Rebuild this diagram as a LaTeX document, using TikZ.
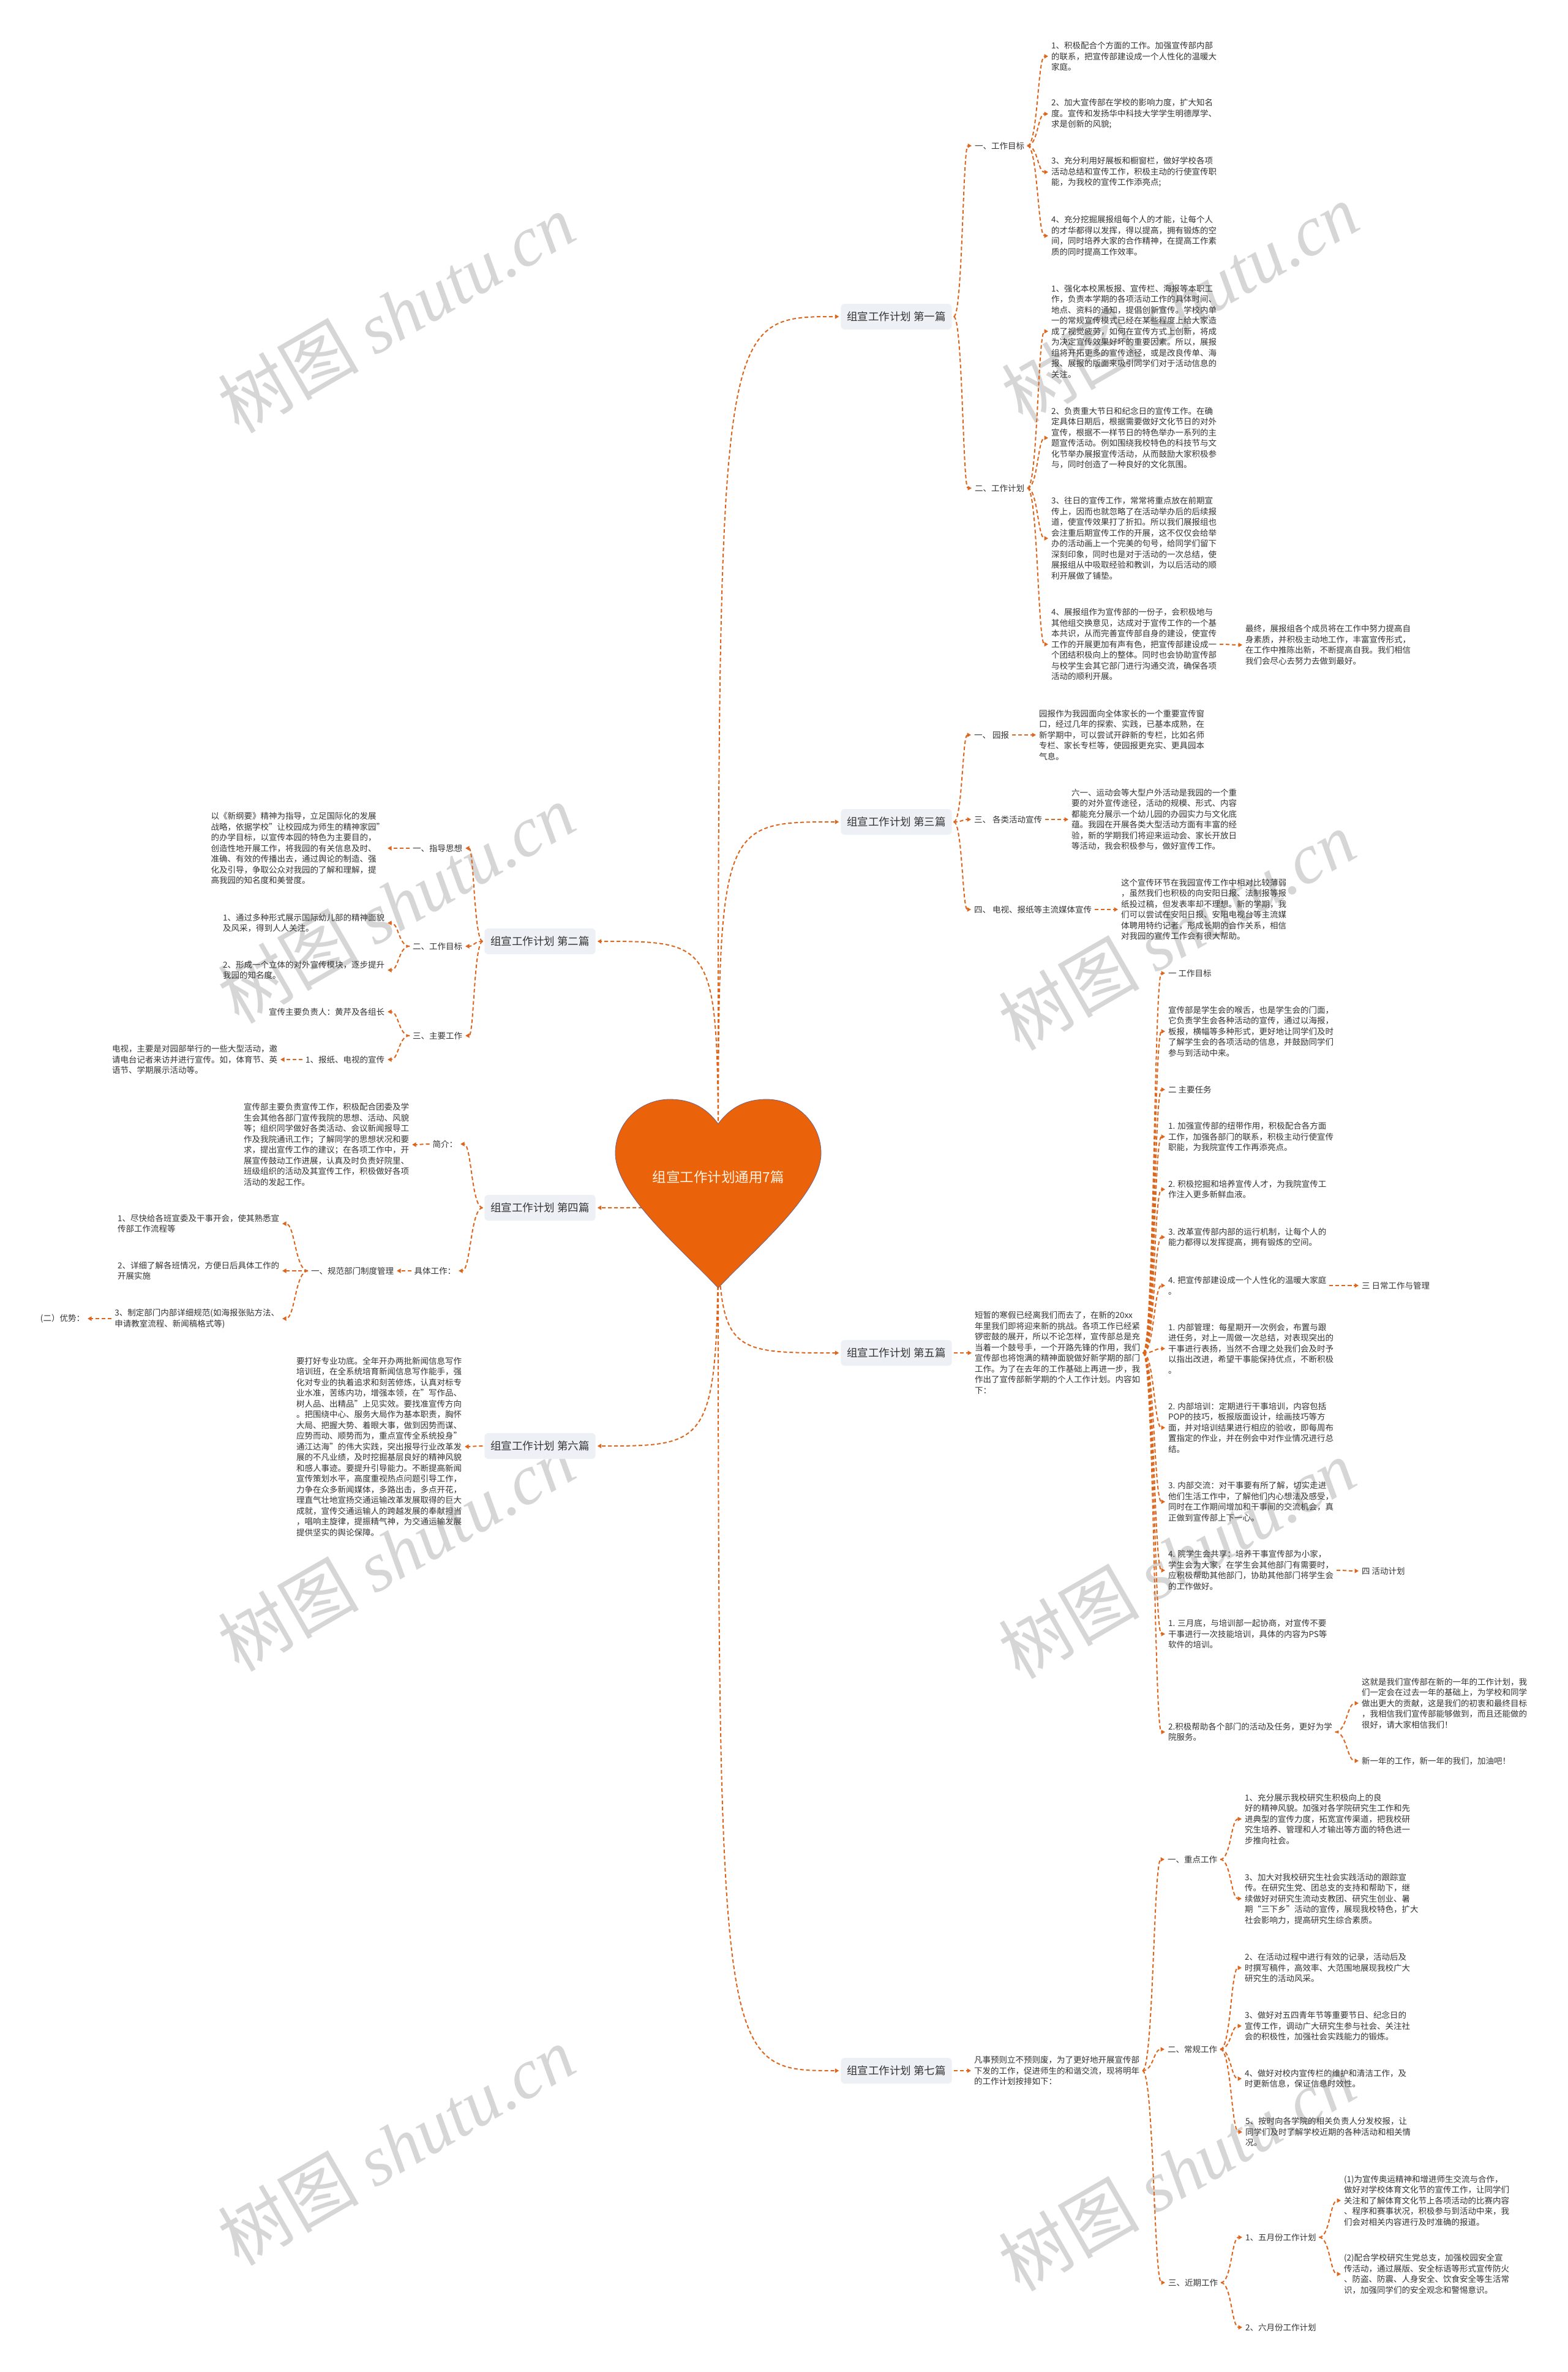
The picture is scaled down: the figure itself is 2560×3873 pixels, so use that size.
\documentclass[tikz,border=0pt]{standalone}
\usepackage{fontspec}
\setmainfont{Noto Sans CJK SC}
\newfontfamily\wmlat{Liberation Serif}
\usetikzlibrary{arrows.meta,calc}
\definecolor{lc}{RGB}{220,102,30}
\definecolor{hc}{RGB}{234,98,10}
\definecolor{hl}{RGB}{112,100,140}
\definecolor{ht}{RGB}{255,243,228}
\definecolor{tc}{RGB}{51,51,51}
\definecolor{bx}{RGB}{237,241,246}
\definecolor{wmc}{RGB}{214,214,214}
\newcommand\fsm{\fontsize{13.5pt}{17.5pt}\selectfont}
\newcommand\fsl{\fontsize{17.5pt}{21pt}\selectfont}
\newcommand\fsh{\fontsize{22.5pt}{26pt}\selectfont}
\newcommand\fsw{\fontsize{115pt}{120pt}\selectfont}
\newcommand\mmlink[2]{\draw[lnk] let \p1=(#1), \p2=(#2) in (\p1) .. controls ({(\x1+\x2)/2},\y1) and ({(\x1+\x2)/2},\y2) .. (\p2);}
\newcommand\rootlink[2]{\draw[lnk] let \p1=(#1), \p2=(#2) in (\p1) .. controls (\x1,\y2) .. (\p2);}
\tikzset{
  lnk/.style={draw=lc, line width=2pt, dash pattern=on 6pt off 4pt, -{Triangle[length=6.5pt,width=7pt]}},
  tx/.style={font=\fsm, text=tc, align=left, inner sep=0pt, outer sep=5pt},
  lb/.style={font=\fsm, text=tc, inner sep=0pt, outer sep=5pt},
  topbox/.style={fill=bx, rounded corners=6pt, font=\fsl, text=tc, minimum height=42pt, inner xsep=10pt, outer sep=3pt},
  wmark/.style={font=\fsw, text=wmc, rotate=30, inner sep=0pt}
}
\begin{document}
\begin{tikzpicture}[x=1pt,y=-1pt]
\fill[white] (0,0) rectangle (2560,3873);
\path[use as bounding box] (0,0) rectangle (2560,3873);

% watermarks
\foreach \wx/\wy [count=\i] in {647/511,1927/494,647/1475,1922/1519,647/2533,1922/2545,647/3503,1922/3545}{
  \node[wmark] (wm\i) at (\wx,\wy) {树图 {\wmlat\itshape shutu.cn}};
}

% first-level boxes
\node[topbox] (p1) at (1464,517) {组宣工作计划 第一篇};
\node[topbox] (p3) at (1464,1342) {组宣工作计划 第三篇};
\node[topbox] (p5) at (1464,2209) {组宣工作计划 第五篇};
\node[topbox] (p7) at (1464,3381) {组宣工作计划 第七篇};
\node[topbox] (p2) at (882,1537) {组宣工作计划 第二篇};
\node[topbox] (p4) at (882,1972) {组宣工作计划 第四篇};
\node[topbox] (p6) at (882,2361) {组宣工作计划 第六篇};

% ---------- 第一篇 ----------
\node[lb,anchor=west] (a1) at (1587,238) {一、工作目标};
\node[lb,anchor=west] (a2) at (1587,797) {二、工作计划};
\node[tx,anchor=west] (a11) at (1712,92) {1、积极配合个方面的工作。加强宣传部内部\\的联系，把宣传部建设成一个人性化的温暖大\\家庭。};
\node[tx,anchor=west] (a12) at (1712,186) {2、加大宣传部在学校的影响力度，扩大知名\\度。宣传和发扬华中科技大学学生明德厚学、\\求是创新的风貌;};
\node[tx,anchor=west] (a13) at (1712,281) {3、充分利用好展板和橱窗栏，做好学校各项\\活动总结和宣传工作，积极主动的行使宣传职\\能，为我校的宣传工作添亮点;};
\node[tx,anchor=west] (a14) at (1712,385) {4、充分挖掘展报组每个人的才能，让每个人\\的才华都得以发挥，得以提高，拥有锻炼的空\\间，同时培养大家的合作精神，在提高工作素\\质的同时提高工作效率。};
\node[tx,anchor=west] (a21) at (1712,541) {1、强化本校黑板报、宣传栏、海报等本职工\\作，负责本学期的各项活动工作的具体时间、\\地点、资料的通知，提倡创新宣传。学校内单\\一的常规宣传模式已经在某些程度上给大家造\\成了视觉疲劳，如何在宣传方式上创新，将成\\为决定宣传效果好坏的重要因素。所以，展报\\组将开拓更多的宣传途径，或是改良传单、海\\报、展报的版面来吸引同学们对于活动信息的\\关注。};
\node[tx,anchor=west] (a22) at (1712,715) {2、负责重大节日和纪念日的宣传工作。在确\\定具体日期后，根据需要做好文化节日的对外\\宣传，根据不一样节日的特色举办一系列的主\\题宣传活动。例如围绕我校特色的科技节与文\\化节举办展报宣传活动，从而鼓励大家积极参\\与，同时创造了一种良好的文化氛围。};
\node[tx,anchor=west] (a23) at (1712,879) {3、往日的宣传工作，常常将重点放在前期宣\\传上，因而也就忽略了在活动举办后的后续报\\道，使宣传效果打了折扣。所以我们展报组也\\会注重后期宣传工作的开展，这不仅仅会给举\\办的活动画上一个完美的句号，给同学们留下\\深刻印象，同时也是对于活动的一次总结，使\\展报组从中吸取经验和教训，为以后活动的顺\\利开展做了铺垫。};
\node[tx,anchor=west] (a24) at (1712,1052) {4、展报组作为宣传部的一份子，会积极地与\\其他组交换意见，达成对于宣传工作的一个基\\本共识，从而完善宣传部自身的建设，使宣传\\工作的开展更加有声有色，把宣传部建设成一\\个团结积极向上的整体。同时也会协助宣传部\\与校学生会其它部门进行沟通交流，确保各项\\活动的顺利开展。};
\node[tx,anchor=west] (a25) at (2029,1053) {最终，展报组各个成员将在工作中努力提高自\\身素质，并积极主动地工作，丰富宣传形式，\\在工作中推陈出新，不断提高自我。我们相信\\我们会尽心去努力去做到最好。};

% ---------- 第三篇 ----------
\node[lb,anchor=west] (b1) at (1586,1200) {一、 园报};
\node[lb,anchor=west] (b2) at (1586,1338) {三、 各类活动宣传};
\node[lb,anchor=west] (b3) at (1586,1485) {四、 电视、报纸等主流媒体宣传};
\node[tx,anchor=west] (b1t) at (1692,1200) {园报作为我园面向全体家长的一个重要宣传窗\\口，经过几年的探索、实践，已基本成熟，在\\新学期中，可以尝试开辟新的专栏，比如名师\\专栏、家长专栏等，使园报更充实、更具园本\\气息。};
\node[tx,anchor=west] (b2t) at (1745,1338) {六一、运动会等大型户外活动是我园的一个重\\要的对外宣传途径，活动的规模、形式、内容\\都能充分展示一个幼儿园的办园实力与文化底\\蕴。我园在开展各类大型活动方面有丰富的经\\验，新的学期我们将迎来运动会、家长开放日\\等活动，我会积极参与，做好宣传工作。};
\node[tx,anchor=west] (b3t) at (1826,1485) {这个宣传环节在我园宣传工作中相对比较薄弱\\，虽然我们也积极的向安阳日报、法制报等报\\纸投过稿，但发表率却不理想。新的学期，我\\们可以尝试在安阳日报、安阳电视台等主流媒\\体聘用特约记者，形成长期的合作关系，相信\\对我园的宣传工作会有很大帮助。};

% ---------- 第五篇 ----------
\node[tx,anchor=west] (c0) at (1587,2209) {短暂的寒假已经离我们而去了，在新的20xx\\年里我们即将迎来新的挑战。各项工作已经紧\\锣密鼓的展开，所以不论怎样，宣传部总是充\\当着一个鼓号手，一个开路先锋的作用，我们\\宣传部也将饱满的精神面貌做好新学期的部门\\工作。为了在去年的工作基础上再进一步，我\\作出了宣传部新学期的个人工作计划。内容如\\下：};
\node[lb,anchor=west] (c1) at (1903,1589) {一 工作目标};
\node[tx,anchor=west] (c2) at (1903,1684) {宣传部是学生会的喉舌，也是学生会的门面，\\它负责学生会各种活动的宣传，通过以海报，\\板报，横幅等多种形式，更好地让同学们及时\\了解学生会的各项活动的信息，并鼓励同学们\\参与到活动中来。};
\node[lb,anchor=west] (c3) at (1903,1779) {二 主要任务};
\node[tx,anchor=west] (c4) at (1903,1856) {1. 加强宣传部的纽带作用，积极配合各方面\\工作，加强各部门的联系，积极主动行使宣传\\职能，为我院宣传工作再添亮点。};
\node[tx,anchor=west] (c5) at (1903,1942) {2. 积极挖掘和培养宣传人才，为我院宣传工\\作注入更多新鲜血液。};
\node[tx,anchor=west] (c6) at (1903,2020) {3. 改革宣传部内部的运行机制，让每个人的\\能力都得以发挥提高，拥有锻炼的空间。};
\node[tx,anchor=west] (c7) at (1903,2099) {4. 把宣传部建设成一个人性化的温暖大家庭\\。};
\node[tx,anchor=west] (c8) at (1903,2202) {1. 内部管理：每星期开一次例会，布置与跟\\进任务，对上一周做一次总结，对表现突出的\\干事进行表扬，当然不合理之处我们会及时予\\以指出改进，希望干事能保持优点，不断积极\\。};
\node[tx,anchor=west] (c9) at (1903,2331) {2. 内部培训：定期进行干事培训，内容包括\\POP的技巧，板报版面设计，绘画技巧等方\\面，并对培训结果进行相应的验收，即每周布\\置指定的作业，并在例会中对作业情况进行总\\结。};
\node[tx,anchor=west] (c10) at (1903,2452) {3. 内部交流：对干事要有所了解，切实走进\\他们生活工作中，了解他们内心想法及感受，\\同时在工作期间增加和干事间的交流机会，真\\正做到宣传部上下一心。};
\node[tx,anchor=west] (c11) at (1903,2564) {4. 院学生会共享：培养干事宣传部为小家，\\学生会为大家，在学生会其他部门有需要时，\\应积极帮助其他部门，协助其他部门将学生会\\的工作做好。};
\node[tx,anchor=west] (c12) at (1903,2668) {1. 三月底，与培训部一起协商，对宣传不要\\干事进行一次技能培训，具体的内容为PS等\\软件的培训。};
\node[tx,anchor=west] (c13) at (1903,2828) {2.积极帮助各个部门的活动及任务，更好为学\\院服务。};
\node[lb,anchor=west] (c7a) at (2219,2099) {三 日常工作与管理};
\node[lb,anchor=west] (c11a) at (2219,2565) {四 活动计划};
\node[tx,anchor=west] (c13a) at (2219,2781) {这就是我们宣传部在新的一年的工作计划，我\\们一定会在过去一年的基础上，为学校和同学\\做出更大的贡献，这是我们的初衷和最终目标\\，我相信我们宣传部能够做到，而且还能做的\\很好，请大家相信我们！};
\node[lb,anchor=west] (c13b) at (2219,2875) {新一年的工作，新一年的我们，加油吧！};

% ---------- 第七篇 ----------
\node[tx,anchor=west] (d0) at (1586,3381) {凡事预则立不预则废，为了更好地开展宣传部\\下发的工作，促进师生的和谐交流，现将明年\\的工作计划按排如下：};
\node[lb,anchor=west] (d1) at (1902,3036) {一、重点工作};
\node[lb,anchor=west] (d2) at (1902,3346) {二、常规工作};
\node[lb,anchor=west] (d3) at (1903,3727) {三、近期工作};
\node[tx,anchor=west] (d11) at (2028,2970) {1、充分展示我校研究生积极向上的良\\好的精神风貌。加强对各学院研究生工作和先\\进典型的宣传力度，拓宽宣传渠道，把我校研\\究生培养、管理和人才输出等方面的特色进一\\步推向社会。};
\node[tx,anchor=west] (d12) at (2028,3100) {3、加大对我校研究生社会实践活动的跟踪宣\\传。在研究生党、团总支的支持和帮助下，继\\续做好对研究生流动支教团、研究生创业、暑\\期“三下乡”活动的宣传，展现我校特色，扩大\\社会影响力，提高研究生综合素质。};
\node[tx,anchor=west] (d21) at (2028,3213) {2、在活动过程中进行有效的记录，活动后及\\时撰写稿件，高效率、大范围地展现我校广大\\研究生的活动风采。};
\node[tx,anchor=west] (d22) at (2028,3308) {3、做好对五四青年节等重要节日、纪念日的\\宣传工作，调动广大研究生参与社会、关注社\\会的积极性，加强社会实践能力的锻炼。};
\node[tx,anchor=west] (d23) at (2028,3394) {4、做好对校内宣传栏的维护和清洁工作，及\\时更新信息，保证信息时效性。};
\node[tx,anchor=west] (d24) at (2029,3481) {5、按时向各学院的相关负责人分发校报，让\\同学们及时了解学校近期的各种活动和相关情\\况。};
\node[lb,anchor=west] (d31) at (2029,3653) {1、五月份工作计划};
\node[lb,anchor=west] (d32) at (2029,3800) {2、六月份工作计划};
\node[tx,anchor=west] (d311) at (2190,3593) {(1)为宣传奥运精神和增进师生交流与合作，\\做好对学校体育文化节的宣传工作，让同学们\\关注和了解体育文化节上各项活动的比赛内容\\、程序和赛事状况，积极参与到活动中来，我\\们会对相关内容进行及时准确的报道。};
\node[tx,anchor=west] (d312) at (2190,3713) {(2)配合学校研究生党总支，加强校园安全宣\\传活动，通过展版、安全标语等形式宣传防火\\、防盗、防震、人身安全、饮食安全等生活常\\识，加强同学们的安全观念和警惕意识。};

% ---------- 第二篇 ----------
\node[lb,anchor=east] (e1) at (760,1385) {一、指导思想};
\node[lb,anchor=east] (e2) at (760,1545) {二、工作目标};
\node[lb,anchor=east] (e3) at (760,1691) {三、主要工作};
\node[tx,anchor=east] (e1t) at (633,1385) {以《新纲要》精神为指导，立足国际化的发展\\战略，依据学校"让校园成为师生的精神家园"\\的办学目标，以宣传本园的特色为主要目的，\\创造性地开展工作，将我园的有关信息及时、\\准确、有效的传播出去，通过舆论的制造、强\\化及引导，争取公众对我园的了解和理解，提\\高我园的知名度和美誉度。};
\node[tx,anchor=east] (e21) at (633,1507) {1、通过多种形式展示国际幼儿部的精神面貌\\及风采，得到人人关注。};
\node[tx,anchor=east] (e22) at (633,1584) {2、形成一个立体的对外宣传模块，逐步提升\\我园的知名度。};
\node[lb,anchor=east] (e31) at (633,1652) {宣传主要负责人：黄芹及各组长};
\node[lb,anchor=east] (e32) at (633,1730) {1、报纸、电视的宣传};
\node[tx,anchor=east] (e32t) at (458,1730) {电视，主要是对园部举行的一些大型活动，邀\\请电台记者来访并进行宣传。如，体育节、英\\语节、学期展示活动等。};

% ---------- 第四篇 ----------
\node[lb,anchor=east] (f1) at (752,1868) {简介：};
\node[tx,anchor=east] (f1t) at (673,1869) {宣传部主要负责宣传工作，积极配合团委及学\\生会其他各部门宣传我院的思想、活动、风貌\\等；组织同学做好各类活动、会议新闻报导工\\作及我院通讯工作；了解同学的思想状况和要\\求，提出宣传工作的建议；在各项工作中，开\\展宣传鼓动工作进展，认真及时负责好院里、\\班级组织的活动及其宣传工作，积极做好各项\\活动的发起工作。};
\node[lb,anchor=east] (f2) at (749,2075) {具体工作：};
\node[lb,anchor=east] (f21) at (648,2075) {一、规范部门制度管理};
\node[tx,anchor=east] (f211) at (461,1998) {1、尽快给各班宣委及干事开会，使其熟悉宣\\传部工作流程等};
\node[tx,anchor=east] (f212) at (461,2075) {2、详细了解各班情况，方便日后具体工作的\\开展实施};
\node[tx,anchor=east] (f213) at (461,2153) {3、制定部门内部详细规范(如海报张贴方法、\\申请教室流程、新闻稿格式等)};
\node[lb,anchor=east] (f2131) at (143,2153) {(二）优势：};

% ---------- 第六篇 ----------
\node[tx,anchor=east] (g1) at (759,2362) {要打好专业功底。全年开办两批新闻信息写作\\培训班，在全系统培育新闻信息写作能手，强\\化对专业的执着追求和刻苦修炼，认真对标专\\业水准，苦练内功，增强本领，在"写作品、\\树人品、出精品"上见实效。要找准宣传方向\\。把围绕中心、服务大局作为基本职责，胸怀\\大局、把握大势、着眼大事，做到因势而谋、\\应势而动、顺势而为，重点宣传全系统投身"\\通江达海"的伟大实践，突出报导行业改革发\\展的不凡业绩，及时挖掘基层良好的精神风貌\\和感人事迹。要提升引导能力。不断提高新闻\\宣传策划水平，高度重视热点问题引导工作，\\力争在众多新闻媒体，多路出击，多点开花，\\理直气壮地宣扬交通运输改革发展取得的巨大\\成就，宣传交通运输人的跨越发展的奉献担当\\，唱响主旋律，提振精气神，为交通运输发展\\提供坚实的舆论保障。};

% ---------- connectors ----------
\coordinate (root) at (1173,1930);
\rootlink{root}{p1.west}
\rootlink{root}{p3.west}
\rootlink{root}{p5.west}
\rootlink{root}{p7.west}
\rootlink{root}{p2.east}
\rootlink{root}{p4.east}
\rootlink{root}{p6.east}

\mmlink{p1.east}{a1.west}
\mmlink{p1.east}{a2.west}
\foreach \q in {a11,a12,a13,a14}{\mmlink{a1.east}{\q.west}}
\foreach \q in {a21,a22,a23,a24}{\mmlink{a2.east}{\q.west}}
\mmlink{a24.east}{a25.west}

\mmlink{p3.east}{b1.west}
\mmlink{p3.east}{b2.west}
\mmlink{p3.east}{b3.west}
\mmlink{b1.east}{b1t.west}
\mmlink{b2.east}{b2t.west}
\mmlink{b3.east}{b3t.west}

\mmlink{p5.east}{c0.west}
\foreach \q in {c1,c2,c3,c4,c5,c6,c7,c8,c9,c10,c11,c12,c13}{\mmlink{c0.east}{\q.west}}
\mmlink{c7.east}{c7a.west}
\mmlink{c11.east}{c11a.west}
\mmlink{c13.east}{c13a.west}
\mmlink{c13.east}{c13b.west}

\mmlink{p7.east}{d0.west}
\foreach \q in {d1,d2,d3}{\mmlink{d0.east}{\q.west}}
\foreach \q in {d11,d12}{\mmlink{d1.east}{\q.west}}
\foreach \q in {d21,d22,d23,d24}{\mmlink{d2.east}{\q.west}}
\foreach \q in {d31,d32}{\mmlink{d3.east}{\q.west}}
\foreach \q in {d311,d312}{\mmlink{d31.east}{\q.west}}

\foreach \q in {e1,e2,e3}{\mmlink{p2.west}{\q.east}}
\mmlink{e1.west}{e1t.east}
\foreach \q in {e21,e22}{\mmlink{e2.west}{\q.east}}
\foreach \q in {e31,e32}{\mmlink{e3.west}{\q.east}}
\mmlink{e32.west}{e32t.east}

\foreach \q in {f1,f2}{\mmlink{p4.west}{\q.east}}
\mmlink{f1.west}{f1t.east}
\mmlink{f2.west}{f21.east}
\foreach \q in {f211,f212,f213}{\mmlink{f21.west}{\q.east}}
\mmlink{f213.west}{f2131.east}

\mmlink{p6.west}{g1.east}

% ---------- heart ----------
\filldraw[fill=hc, draw=hl, line width=0.8pt] (1173,1835)
  .. controls (1195,1805) and (1222,1795) .. (1252,1795)
  .. controls (1302,1795) and (1341,1835) .. (1341,1883)
  .. controls (1341,1950) and (1232,2040) .. (1173,2103)
  .. controls (1114,2040) and (1005,1950) .. (1005,1883)
  .. controls (1005,1835) and (1044,1795) .. (1094,1795)
  .. controls (1124,1795) and (1151,1805) .. (1173,1835) -- cycle;
\node[font=\fsh, text=ht, inner sep=0pt] (roottxt) at (1173,1922) {组宣工作计划通用7篇};
\end{tikzpicture}
\end{document}
